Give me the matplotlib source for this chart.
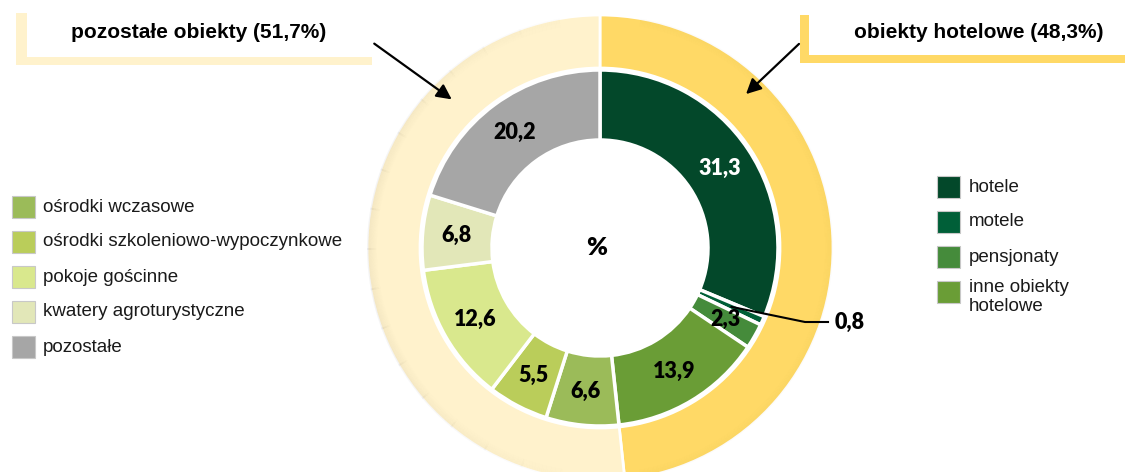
import numpy as np
import matplotlib.pyplot as plt
from matplotlib.patches import Rectangle, Wedge

W, H = 1125, 472

# outer ring
outer_labels = ['obiekty hotelowe (48,3%)', 'pozostałe obiekty (51,7%)']
outer_values = [48.3, 51.7]
outer_colors = ['#FFD966', '#FFF2CC']

# inner ring
inner_names = ['hotele', 'motele', 'pensjonaty', 'inne obiekty\nhotelowe',
               'ośrodki wczasowe', 'ośrodki szkoleniowo-wypoczynkowe',
               'pokoje gościnne', 'kwatery agroturystyczne', 'pozostałe']
inner_values = [31.3, 0.8, 2.3, 13.9, 6.6, 5.5, 12.6, 6.8, 20.2]
inner_colors = ['#03482A', '#005F38', '#458B3B', '#6A9D36', '#9BBB59',
                '#BACD5A', '#D9E88D', '#E2E7B8', '#A6A6A6']

label_font = ['Lato', 'DejaVu Sans']
legend_font = ['Liberation Sans', 'DejaVu Sans']


def fmt(v):
    return f"{v:.1f}".replace('.', ',')


def Y(y):
    # screen y (from top) -> data y
    return H - y


fig = plt.figure(figsize=(W / 100, H / 100), dpi=100)
ax = fig.add_axes([0, 0, 1, 1])

cx, cy = 600, Y(248)
r_out, r_mid, r_in = 233, 180, 108

ax.pie(outer_values, radius=r_out, center=(cx, cy), startangle=90,
       counterclock=False, colors=outer_colors,
       wedgeprops=dict(width=r_out - r_mid, edgecolor='white', linewidth=2))

# soft shadow along the outer edge of the big ring (stronger on the left)
for a0 in range(100, 270, 10):
    fade = np.sin(np.deg2rad(a0 + 5 - 90))
    for k in range(10):
        ax.add_patch(Wedge((cx, cy), r_out - k, a0, a0 + 10.5, width=1.2,
                           facecolor='black', alpha=0.04 * fade * (10 - k) / 10, lw=0))
for k in range(8):
    ax.add_patch(Wedge((cx, cy), r_out - k, -80, 80, width=1.2,
                       facecolor='#7a5a00', alpha=0.02 * (8 - k) / 8, lw=0))

wedges, _ = ax.pie(inner_values, radius=r_mid - 2, center=(cx, cy), startangle=90,
                   counterclock=False, colors=inner_colors,
                   wedgeprops=dict(width=r_mid - 2 - r_in, edgecolor='white', linewidth=2.5))

# value labels in the middle of the inner ring
r_lab = (r_mid + r_in) / 2
for i, (w, v) in enumerate(zip(wedges, inner_values)):
    ang = np.deg2rad((w.theta1 + w.theta2) / 2)
    x = cx + r_lab * np.cos(ang)
    y = cy + r_lab * np.sin(ang)
    if v < 1:
        ax.plot([x, 805, 828], [y, Y(322), Y(322)], color='black', lw=1.5)
        ax.text(835, Y(322), fmt(v), ha='left', va='center', fontsize=15.5,
                fontweight='heavy', family=label_font)
        continue
    col = 'white' if i == 0 else 'black'
    ax.text(x, y, fmt(v), ha='center', va='center', fontsize=15.5,
            fontweight='heavy', color=col, family=label_font)

ax.text(cx - 3, cy, '%', ha='center', va='center', fontsize=18,
        fontweight='heavy', family=label_font)

# title boxes
ax.add_patch(Rectangle((16, Y(65)), 356, 52, color=outer_colors[1], lw=0))
ax.add_patch(Rectangle((27, Y(57)), 345, 44, color='white', lw=0))
ax.text(199, Y(33), outer_labels[1], ha='center', va='center', fontsize=15,
        fontweight='bold', family=legend_font)

ax.add_patch(Rectangle((800, Y(63)), 330, 48, color=outer_colors[0], lw=0))
ax.add_patch(Rectangle((809, Y(55)), 320, 40, color='white', lw=0))
ax.text(979, Y(33), outer_labels[0], ha='center', va='center', fontsize=15,
        fontweight='bold', family=legend_font)

arrow = dict(arrowstyle='-|>,head_length=0.9,head_width=0.45', color='black', lw=1.6)
ax.annotate('', xy=(454, Y(101)), xytext=(372, Y(42)), arrowprops=arrow)
ax.annotate('', xy=(744, Y(96)), xytext=(801, Y(42)), arrowprops=arrow)

# left legend (other objects)
left_y = [207, 242, 277, 312, 347]
for name, col, yy in zip(inner_names[4:], inner_colors[4:], left_y):
    ax.add_patch(Rectangle((12, Y(yy) - 11), 23, 22, facecolor=col,
                           edgecolor='#C8C8C8', lw=0.8))
    ax.text(43, Y(yy), name, ha='left', va='center', fontsize=13.5,
            color='#1a1a1a', family=legend_font)

# right legend (hotel objects)
right_y = [187, 222, 257, 292]
for name, col, yy in zip(inner_names[:4], inner_colors[:4], right_y):
    ax.add_patch(Rectangle((937, Y(yy) - 11), 23, 22, facecolor=col,
                           edgecolor='#C8C8C8', lw=0.8))
    ty = Y(yy + 5) if '\n' in name else Y(yy)
    ax.text(969, ty, name, ha='left', va='center', fontsize=13.5,
            color='#1a1a1a', family=legend_font, linespacing=1.2)

ax.set_xlim(0, W)
ax.set_ylim(0, H)
ax.set_aspect('equal')
ax.axis('off')

fig.savefig('out.png', dpi=100)
